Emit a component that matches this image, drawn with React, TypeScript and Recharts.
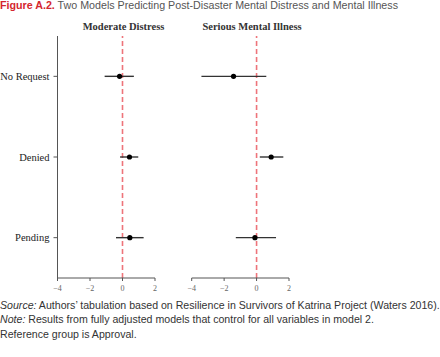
import React from 'react';
import { ScatterChart, Scatter, XAxis, YAxis, ErrorBar, ReferenceLine } from 'recharts';

const categories = ['No Request', 'Denied', 'Pending'];
const xTicks = [-4, -2, 0, 2];

const distressEst = [-0.18, 0.43, 0.45];
const distressLow = [-1.1, -0.15, -0.4];
const distressHigh = [0.7, 0.97, 1.3];

const illnessEst = [-1.42, 0.9, -0.1];
const illnessLow = [-3.4, 0.2, -1.28];
const illnessHigh = [0.6, 1.65, 1.2];

const build = (est: number[], low: number[], high: number[]) =>
  categories.map((c, i) => ({ name: c, est: est[i], err: [est[i] - low[i], high[i] - est[i]] }));

const distressData = build(distressEst, distressLow, distressHigh);
const illnessData = build(illnessEst, illnessLow, illnessHigh);

const serif = '"Liberation Serif", "DejaVu Serif", serif';
const sans = '"Liberation Sans", Arial, sans-serif';

const fmt = (v: number) => (v < 0 ? '\u2212' + Math.abs(v) : String(v));

const dot = (p: any) => <circle cx={p.cx} cy={p.cy} r={2.6} fill="#000" />;

const CatTick = (p: any) => (
  <text x={p.x - 2} y={p.y} dy="0.35em" textAnchor="end" fontFamily={serif} fontSize={10.5} fill="#222">
    {p.payload.value}
  </text>
);

const XTick = (p: any) => (
  <text x={p.x} y={p.y + 8} textAnchor="middle" fontFamily={serif} fontSize={8} fill="#666">
    {fmt(p.payload.value)}
  </text>
);

function Panel({ data, showY, width, marginLeft, marginRight }: any) {
  return (
    <ScatterChart width={width} height={300} margin={{ top: 36, right: marginRight, bottom: 0, left: marginLeft }}>
      <XAxis
        type="number"
        dataKey="est"
        domain={[-4, 2]}
        ticks={xTicks}
        axisLine={{ stroke: '#555', strokeWidth: 1 }}
        tickLine={{ stroke: '#555' }}
        tickSize={3}
        tick={XTick}
        height={22}
        interval={0}
      />
      <YAxis
        type="category"
        dataKey="name"
        reversed
        allowDuplicatedCategory={false}
        hide={!showY}
        width={showY ? 57 : 0}
        axisLine={{ stroke: '#555', strokeWidth: 1 }}
        tickLine={{ stroke: '#555' }}
        tickSize={4}
        tick={CatTick}
      />
      <ReferenceLine x={0} stroke="#ee747a" strokeWidth={1.6} strokeDasharray="5 3" />
      <Scatter data={data} isAnimationActive={false} shape={dot}>
        <ErrorBar dataKey="err" direction="x" width={0} stroke="#333" strokeWidth={1.4} />
      </Scatter>
    </ScatterChart>
  );
}

export default function App() {
  return (
    <div style={{ position: 'absolute', left: 0, top: 0, width: 440, height: 357, background: '#fff', overflow: 'hidden' }}>
      <div style={{ position: 'absolute', left: 0, top: -1, whiteSpace: 'nowrap', fontFamily: sans, fontSize: 10.7, color: '#555' }}>
        <span style={{ color: '#d4262e', fontWeight: 'bold' }}>Figure A.2.</span> Two Models Predicting Post-Disaster Mental Distress and Mental Illness
      </div>
      <div style={{ position: 'absolute', left: 123.5, top: 21, transform: 'translateX(-50%)', whiteSpace: 'nowrap', fontFamily: serif, fontSize: 10.5, fontWeight: 'bold', color: '#333' }}>
        Moderate Distress
      </div>
      <div style={{ position: 'absolute', left: 252, top: 21, transform: 'translateX(-50%)', whiteSpace: 'nowrap', fontFamily: serif, fontSize: 10.5, fontWeight: 'bold', color: '#333' }}>
        Serious Mental Illness
      </div>
      <div style={{ position: 'absolute', left: 0, top: 0 }}>
        <Panel data={distressData} showY width={165} marginLeft={0.5} marginRight={10} />
      </div>
      <div style={{ position: 'absolute', left: 170, top: 0 }}>
        <Panel data={illnessData} showY={false} width={129} marginLeft={21.7} marginRight={10} />
      </div>
      <div style={{ position: 'absolute', left: 0, top: 297.5, fontFamily: sans, fontSize: 10.6, color: '#333', lineHeight: '14.5px', whiteSpace: 'nowrap' }}>
        <div><i>Source:</i> Authors’ tabulation based on Resilience in Survivors of Katrina Project (Waters 2016).</div>
        <div><i>Note:</i> Results from fully adjusted models that control for all variables in model 2.</div>
        <div>Reference group is Approval.</div>
      </div>
    </div>
  );
}
